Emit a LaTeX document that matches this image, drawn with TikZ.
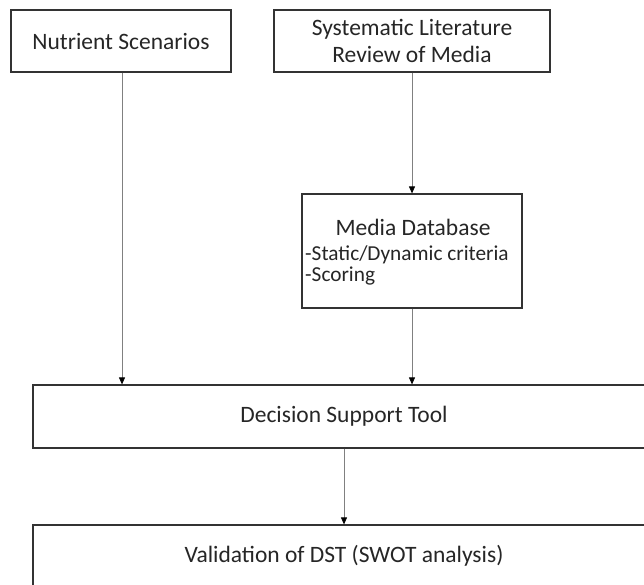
\documentclass[tikz,border=0pt]{standalone}
\usepackage{fontspec}
\setmainfont{Carlito}
\usetikzlibrary{arrows.meta}
\begin{document}
\begin{tikzpicture}[x=1pt,y=-1pt,
  box/.style={draw=black!80, line width=1.2pt, fill=white, inner sep=0pt, align=center, text=black!85, font=\fontsize{23.5}{27}\selectfont},
  conn/.style={draw=black!50, line width=0.8pt, -{Triangle[length=7pt,width=6pt,color=black]}},
  mdtext/.style={inner sep=0pt, text=black!85}]
\useasboundingbox (0,0) rectangle (644,584);
\clip (0,0) rectangle (644,584);
\node[box, minimum width=220pt, minimum height=62pt] (nut) at (121,41) {Nutrient Scenarios};
\node[box, minimum width=276pt, minimum height=62pt] (sys) at (412,41) {Systematic Literature\\Review of Media};
\node[box, minimum width=220pt, minimum height=114pt] (md) at (412,251) {};
\node[mdtext, anchor=base, font=\fontsize{23.5}{27}\selectfont] (mdt) at (413,235.7) {Media Database};
\node[mdtext, anchor=base west, font=\fontsize{21.3}{25}\selectfont] (md1) at (305,260) {-Static/Dynamic criteria};
\node[mdtext, anchor=base west, font=\fontsize{21.3}{25}\selectfont] (md2) at (305,281) {-Scoring};
\node[box, minimum width=622pt, minimum height=63pt] (dst) at (344,416.5) {Decision Support Tool};
\node[box, minimum width=622pt, minimum height=61pt] (val) at (344,555.5) {Validation of DST (SWOT analysis)};
\draw[conn] ([xshift=1pt]nut.south) -- ([xshift=1pt]nut.south |- dst.north);
\draw[conn] (sys.south) -- (md.north);
\draw[conn] (md.south) -- (md.south |- dst.north);
\draw[conn] (dst.south) -- (val.north);
\end{tikzpicture}
\end{document}
